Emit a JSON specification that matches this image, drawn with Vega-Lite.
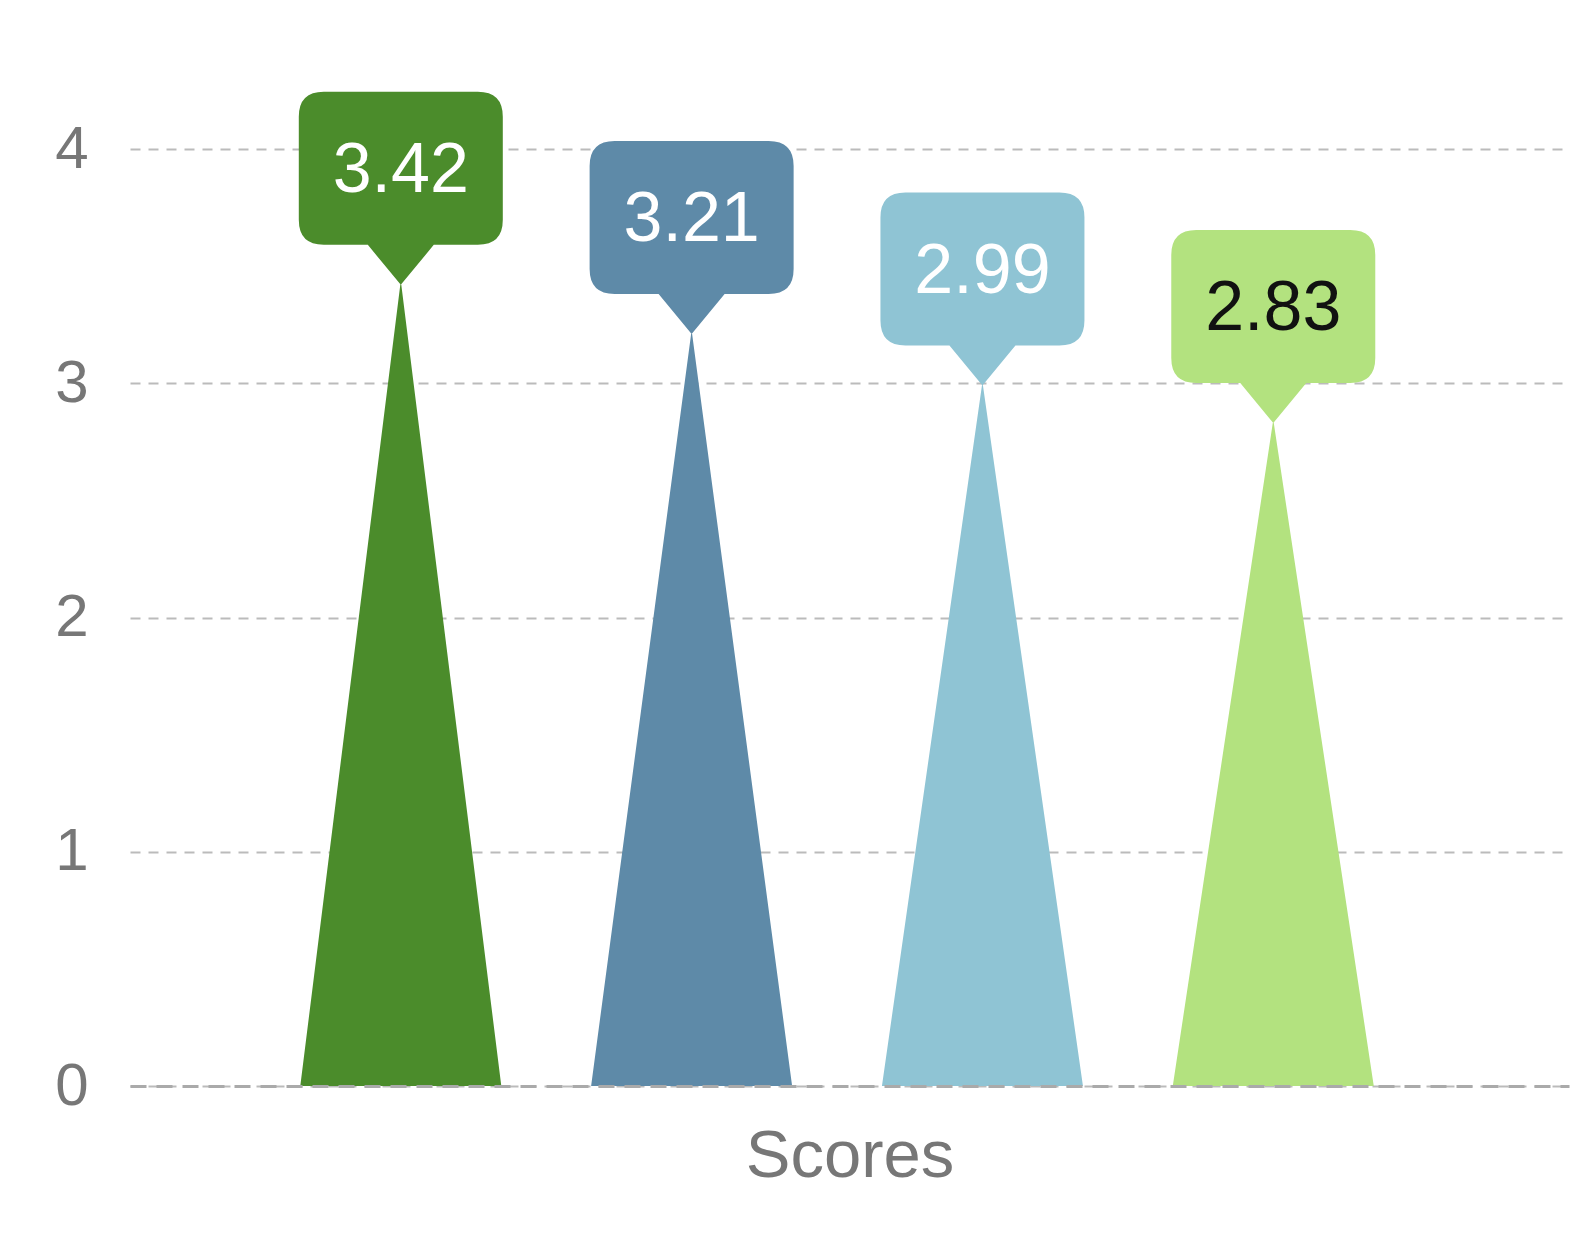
{
  "$schema": "https://vega.github.io/schema/vega-lite/v6.json",
  "autosize": {"type": "none"},
  "width": 1439,
  "height": 937,
  "padding": {"left": 130, "top": 149, "right": 5, "bottom": 151},
  "background": "white",
  "config": {"view": {"stroke": null}, "font": "Liberation Sans"},
  "data": {"values": [
    {"series": "Series 1", "top": 3.42, "bottom": 0},
    {"series": "Series 2", "top": 3.21, "bottom": 0},
    {"series": "Series 3", "top": 2.99, "bottom": 0},
    {"series": "Series 4", "top": 2.83, "bottom": 0}
  ]},
  "encoding": {
    "x": {"field": "series", "type": "nominal", "sort": null,
      "scale": {"type": "point", "padding": 0.974, "align": 0.478},
      "axis": {"labels": false, "ticks": false, "domain": true, "domainDash": [16, 10], "domainColor": "#aaa", "domainWidth": 3,
        "title": "Scores", "titleFontSize": 67, "titleColor": "#777", "titleFontWeight": "normal", "titleFont": "Liberation Sans", "titlePadding": 37, "zindex": 1}}
  },
  "layer": [
    {
      "transform": [{"fold": ["top", "bottom"], "as": ["key", "val"]}],
      "mark": {"type": "trail", "clip": true},
      "encoding": {
        "y": {"field": "val", "type": "quantitative",
          "scale": {"domain": [0, 4], "nice": false},
          "axis": {"values": [0, 1, 2, 3, 4], "format": "d", "grid": true, "gridDash": [10, 8], "gridColor": "#bbb", "gridWidth": 2,
            "domain": false, "ticks": false, "labelFontSize": 60, "labelColor": "#777", "labelPadding": 42, "labelFont": "Liberation Sans", "title": null}},
        "size": {"field": "key", "type": "ordinal", "scale": {"domain": ["top", "bottom"], "range": [0, 201]}, "legend": null},
        "color": {"field": "series", "type": "nominal", "scale": {"domain": ["Series 1", "Series 2", "Series 3", "Series 4"], "range": ["#4b8c2b", "#5e8aa8", "#8fc4d4", "#b3e27f"]}, "legend": null},
        "order": {"field": "val", "type": "quantitative"}
      }
    },
    {
      "mark": {"type": "point", "shape": "M0,0 L-0.33,-0.4 L-0.77,-0.4 Q-1.02,-0.4 -1.02,-0.65 L-1.02,-1.68 Q-1.02,-1.93 -0.77,-1.93 L0.77,-1.93 Q1.02,-1.93 1.02,-1.68 L1.02,-0.65 Q1.02,-0.4 0.77,-0.4 L0.33,-0.4 Z", "size": 40000, "filled": true, "opacity": 1, "strokeWidth": 0},
      "encoding": {
        "y": {"field": "top", "type": "quantitative"},
        "color": {"field": "series", "type": "nominal", "legend": null}
      }
    },
    {
      "mark": {"type": "text", "dy": -114, "fontSize": 70, "font": "Liberation Sans", "baseline": "middle", "align": "center"},
      "encoding": {
        "y": {"field": "top", "type": "quantitative"},
        "text": {"field": "top", "type": "quantitative", "format": ".2f"},
        "color": {"condition": {"test": "datum.series === 'Series 4'", "value": "#111111"}, "value": "#ffffff"}
      }
    }
  ]
}
